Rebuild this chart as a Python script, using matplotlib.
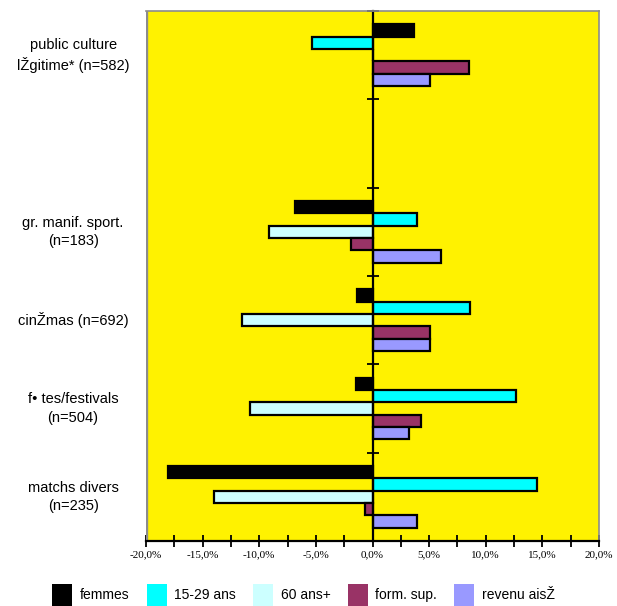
import numpy as np
import matplotlib
matplotlib.use("Agg")
from matplotlib import pyplot as plt
from matplotlib.patches import Patch
from matplotlib.ticker import MultipleLocator, FuncFormatter

# categories top to bottom (one empty slot, as in the original)
categories = ["public culture\nlŽgitime* (n=582)", "", "gr. manif. sport.\n(n=183)",
              "cinŽmas (n=692)", "f• tes/festivals\n(n=504)", "matchs divers\n(n=235)"]
series = ["femmes", "15-29 ans", "60 ans+", "form. sup.", "revenu aisŽ"]
colors = ["#000000", "#00FFFF", "#CCFFFF", "#993366", "#9999FF"]

femmes = [3.7, np.nan, -6.85, -1.4, -1.45, -18.1]
jeunes = [-5.3, np.nan, 3.9, 8.65, 12.7, 14.5]
seniors = [0.0, np.nan, -9.1, -11.55, -10.8, -14.0]
form_sup = [8.5, np.nan, -1.9, 5.1, 4.3, -0.65]
revenu = [5.1, np.nan, 6.05, 5.1, 3.2, 3.9]
values = [femmes, jeunes, seniors, form_sup, revenu]

fig = plt.figure(figsize=(6.17, 6.06), dpi=100)
ax = fig.add_axes([146 / 617, 65 / 606, 453 / 617, 530 / 606])
ax.set_facecolor("#FFF200")

y = np.arange(len(categories))
h = 0.14
for i, (name, vals) in enumerate(zip(series, values)):
    ax.barh(y + (i - 2) * h, vals, height=h, color=colors[i],
            edgecolor="black", linewidth=1.6, label=name)

ax.set_xlim(-20, 20)
ax.set_ylim(len(categories) - 0.5, -0.5)

# zero axis with ticks between groups
ax.spines["left"].set_position(("data", 0))
ax.spines["left"].set_linewidth(1.6)
ax.set_yticks(np.arange(-0.5, len(categories), 1.0))
ax.set_yticklabels([])
ax.tick_params(axis="y", direction="inout", length=8, width=1.3)

for s in ["top", "right"]:
    ax.spines[s].set_color("#8C8C8C")
    ax.spines[s].set_linewidth(1.2)
ax.axvline(-20, color="#8C8C8C", lw=2.4)
ax.spines["bottom"].set_linewidth(1.6)

ax.xaxis.set_major_locator(MultipleLocator(5))
ax.xaxis.set_minor_locator(MultipleLocator(2.5))
ax.xaxis.set_major_formatter(FuncFormatter(lambda v, p: ("%.1f%%" % v).replace(".", ",")))
ax.tick_params(axis="x", which="both", direction="inout", length=8, width=1.3, pad=3)
for t in ax.get_xticklabels():
    t.set_fontfamily("Liberation Serif")
    t.set_fontsize(8)

trans = ax.get_yaxis_transform()
for yi, lab in zip(y, categories):
    ax.text(-0.161, yi, lab, transform=trans, ha="center", va="center",
            fontsize=10.5, family="Liberation Sans", linespacing=1.4)

handles = [Patch(facecolor=c, label=s) for c, s in zip(colors, series)]
fig.legend(handles=handles, loc="lower center", bbox_to_anchor=(0.492, -0.02), ncol=5,
           frameon=False, handlelength=1.45, handleheight=2.0, handletextpad=0.55,
           columnspacing=1.22, prop={"family": "Liberation Sans", "size": 10})

fig.savefig("out.png", dpi=100)
